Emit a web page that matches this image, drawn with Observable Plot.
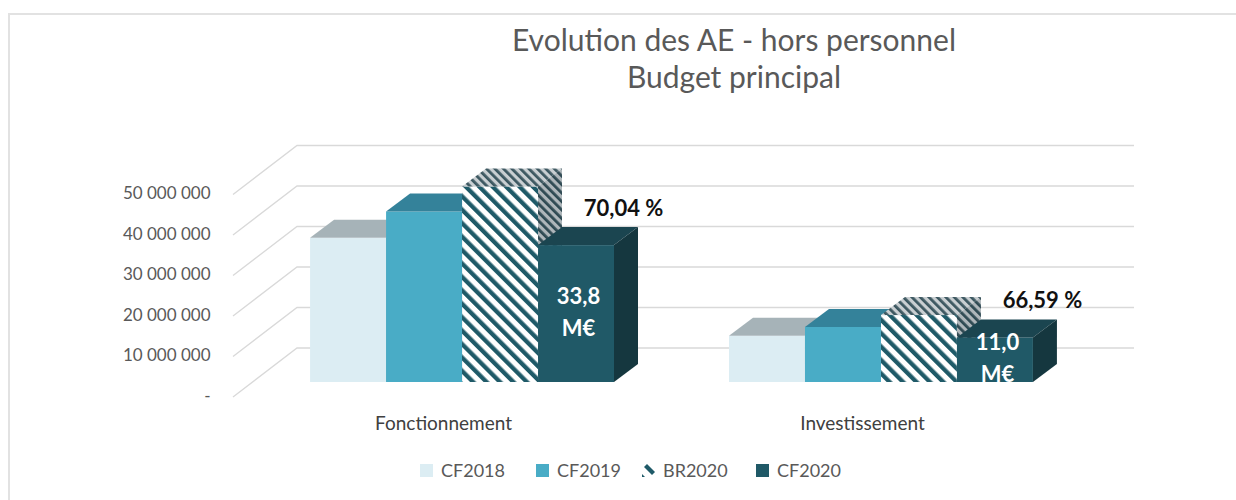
<!DOCTYPE html>
<html>
<head>
<meta charset="utf-8">
<script src="https://cdn.jsdelivr.net/npm/d3@7"></script>
<script src="https://cdn.jsdelivr.net/npm/@observablehq/plot@0.6"></script>
<style>
  html, body { margin: 0; padding: 0; background: #fff; overflow: hidden; width: 1236px; height: 500px; }
  body { position: relative; font-family: Lato, "Open Sans", sans-serif; }
  #frame { position: absolute; left: 8px; top: 13px; width: 1300px; height: 600px; border: 2px solid #e2e2e2; box-sizing: border-box; }
  #title { position: absolute; left: 384px; width: 700px; top: 21px; text-align: center; color: #595959; font-size: 30px; line-height: 37px; }
  #chart { position: absolute; left: 0; top: 100px; }
  #legend { position: absolute; left: 0; top: 458px; width: 1236px; height: 24px; }
  .item { position: absolute; top: 0; display: flex; align-items: center; height: 24px; color: #595959; font-size: 18px; }
  .item svg { margin-right: 8px; }
</style>
</head>
<body>
<div id="frame"></div>
<div id="title">Evolution des AE - hors personnel<br>Budget principal</div>
<div id="chart"></div>
<div id="legend"></div>
<script>
// ---- data ----
const categories = ["Fonctionnement", "Investissement"];
const series = ["CF2018", "CF2019", "BR2020", "CF2020"];
const fonctionnement = [35.6e6, 42.1e6, 48.26e6, 33.8e6];
const investissement = [11.4e6, 13.6e6, 16.52e6, 11.0e6];
const executionLabels = ["70,04 %", "66,59 %"];
const valueLabels = ["33,8\nM€", "11,0\nM€"];
const yTicks = [0, 10e6, 20e6, 30e6, 40e6, 50e6];

// ---- styles ----
const frontColors = { CF2018: "#dcedf3", CF2019: "#49acc6", BR2020: "url(#stripes)", CF2020: "#205967" };
const topColors = { CF2018: "#a6b3b8", CF2019: "#34829a", BR2020: "url(#stripesTop)", CF2020: "#1b4550" };
const sideColors = { CF2018: "#9fb0b6", CF2019: "#2f7890", BR2020: "url(#stripesSide)", CF2020: "#15373f" };
const depthX = 24, depthY = -18, barW = 76;

const rows = [];
categories.forEach((c, ci) => {
  const vals = ci === 0 ? fonctionnement : investissement;
  series.forEach((s, si) => rows.push({ category: c, series: s, value: vals[si] }));
});
const last = categories.map((c, ci) => ({
  category: c,
  value: (ci === 0 ? fonctionnement : investissement)[3],
  pct: executionLabels[ci],
  label: valueLabels[ci]
}));

const fmt = d => d === 0 ? "-" : d3.format(",")(d).replace(/,/g, " ");

function bar3d(s, i) {
  return Plot.barY(rows.filter(r => r.series === s), {
    x: "category", y: "value", fill: frontColors[s],
    insetLeft: i * barW, insetRight: (series.length - 1 - i) * barW,
    render(index, scales, values, dims, ctx, next) {
      const g = next(index, scales, values, dims, ctx);
      const rects = Array.from(g.querySelectorAll("rect"));
      const ns = "http://www.w3.org/2000/svg";
      rects.forEach(r => {
        const x = +r.getAttribute("x"), y = +r.getAttribute("y");
        const w = +r.getAttribute("width"), h = +r.getAttribute("height");
        const top = document.createElementNS(ns, "polygon");
        top.setAttribute("points", [[x, y], [x + depthX, y + depthY], [x + w + depthX, y + depthY], [x + w, y]].map(p => p.join(",")).join(" "));
        top.setAttribute("fill", topColors[s]);
        const side = document.createElementNS(ns, "polygon");
        side.setAttribute("points", [[x + w, y], [x + w + depthX, y + depthY], [x + w + depthX, y + h + depthY], [x + w, y + h]].map(p => p.join(",")).join(" "));
        side.setAttribute("fill", sideColors[s]);
        g.appendChild(top);
        g.appendChild(side);
      });
      return g;
    }
  });
}

const grid = Plot.ruleY(yTicks, {
  y: d => d,
  render(index, scales, values, dims) {
    const g = d3.create("svg:g").attr("fill", "none").attr("stroke", "#d9d9d9").attr("stroke-width", 1.3);
    const x0 = dims.marginLeft, x1 = dims.marginLeft + 64, x2 = dims.width - dims.marginRight + 24;
    for (const i of index) {
      const y = values.y[i];
      g.append("path").attr("d", `M${x0},${y + 15}L${x1},${y - 34}L${x2},${y - 34}`);
    }
    return g.node();
  }
});

const chart = Plot.plot({
  width: 1236,
  height: 345,
  marginLeft: 233,
  marginRight: 126,
  marginTop: 79.5,
  marginBottom: 63,
  style: { fontFamily: "Lato, 'Open Sans', sans-serif", background: "transparent", overflow: "visible" },
  x: { domain: categories, paddingInner: 0.2745, paddingOuter: 0.184, round: false, axis: null },
  y: { domain: [0, 50e6], axis: null },
  marks: [
    grid,
    Plot.text(yTicks, { y: d => d, text: fmt, frameAnchor: "left", textAnchor: "end", dx: -23, dy: 14, fill: "#595959", fontSize: 17 }),
    ...series.map((s, i) => bar3d(s, i)),
    Plot.text(categories, { x: d => d, text: d => d, frameAnchor: "bottom", lineAnchor: "middle", dy: 41, dx: -19, fill: "#404040", fontSize: 19 }),
    Plot.text(last, { x: "category", y: "value", text: "pct", dx: 161, dy: -37, fill: "#111", fontWeight: "bold", fontSize: 22 }),
    Plot.text(last, { x: "category", y: d => d.value / 2, text: "label", dx: 116, dy: -4, fill: "#ffffff", fontWeight: "bold", fontSize: 22, lineHeight: 1.45 })
  ]
});

// patterns for the striped series
const defs = d3.select(chart).insert("defs", ":first-child");
function stripes(id, bg, fg, size, w) {
  const p = defs.append("pattern").attr("id", id).attr("patternUnits", "userSpaceOnUse")
    .attr("width", size).attr("height", size).attr("patternTransform", "rotate(-45)");
  p.append("rect").attr("width", size).attr("height", size).attr("fill", bg);
  p.append("rect").attr("width", w).attr("height", size).attr("fill", fg);
}
stripes("stripes", "#ffffff", "#1f5a68", 9.5, 4.3);
stripes("stripesTop", "#c9cfd2", "#3d5861", 6, 2.8);
stripes("stripesSide", "#aeb6ba", "#2f4a53", 6, 2.8);
document.getElementById("chart").appendChild(chart);

// ---- legend ----
const legend = d3.select("#legend");
const lx = [420, 536, 642, 756];
series.forEach((s, i) => {
  const item = legend.append("div").attr("class", "item").style("left", lx[i] + "px");
  const sv = item.append("svg").attr("width", 13).attr("height", 13);
  if (s === "BR2020") {
    sv.append("path").attr("d", "M2,3L5,0L13,8L10,11Z").attr("fill", "#1f5a68");
    sv.append("path").attr("d", "M0,10L3,13L0,13Z").attr("fill", "#1f5a68");
  } else {
    sv.append("rect").attr("width", 13).attr("height", 13).attr("fill", frontColors[s]);
  }
  item.append("span").text(s);
});
</script>
</body>
</html>
